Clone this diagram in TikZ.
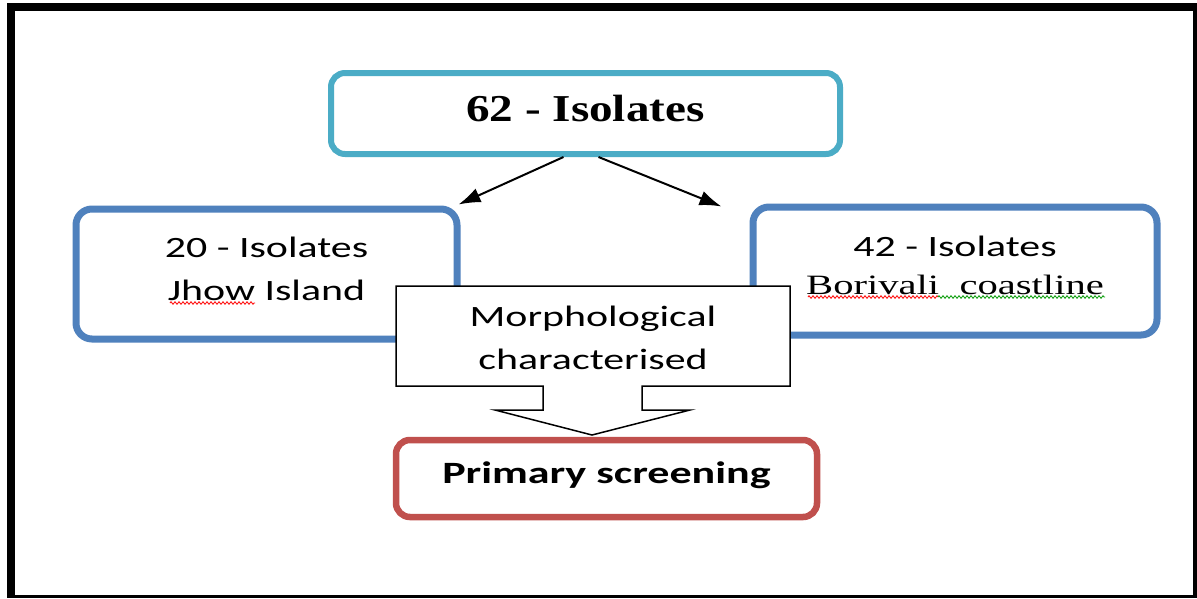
\documentclass[tikz,border=0pt]{standalone}
\usepackage{fontspec}
\newfontfamily\calfont[FakeStretch=1.42]{Carlito}
\newfontfamily\timesfont[FakeStretch=1.24]{Liberation Serif}
\newfontfamily\cambfont[FakeStretch=1.45]{Liberation Serif}
\usetikzlibrary{arrows.meta,decorations.pathmorphing}
\tikzset{>=latex}
\definecolor{topcyan}{HTML}{4BACC6}
\definecolor{isoblue}{HTML}{4F81BD}
\definecolor{screenred}{HTML}{C0504D}

\begin{document}
\begin{tikzpicture}[x=1pt,y=-1pt,
    every node/.style={align=center,inner sep=0pt,font=\calfont\fontsize{29.5}{43}\selectfont},
    isobox/.style={draw=isoblue,line width=7pt,rounded corners=16pt,fill=white},
    topbox/.style={draw=topcyan,line width=6pt,rounded corners=14pt,fill=white,
        minimum width=509pt,minimum height=81pt},
    screenbox/.style={draw=screenred,line width=6.5pt,rounded corners=14pt,fill=white,
        minimum width=421pt,minimum height=77pt},
    splitarrow/.style={-{Latex[length=22pt,width=15pt]},line width=2pt},
    spell/.style={decorate,decoration={zigzag,segment length=4pt,amplitude=1.3pt},line width=0.8pt}
  ]

    \useasboundingbox (0,0) rectangle (1197,598);
    % frame
    \fill[black] (7,3) rectangle (1197,598);
    \fill[white] (15,11) rectangle (1193,595);

    % isolate counts
    \node[topbox] (total) at (585.5,113.5) {};
    \node (totaltext) at ([yshift=5pt]total.center)
        {\timesfont\bfseries\fontsize{38}{40}\selectfont 62 - Isolates};
    \node[isobox,minimum width=381pt,minimum height=130pt] (jhow) at (266.5,274) {};
    \node (jhowtext) at ([yshift=5pt]jhow.center) {20 - Isolates\\Jhow Island};
    \node[isobox,minimum width=404pt,minimum height=128pt] (borivali) at (955,271) {};
    \node[font=\calfont\fontsize{29.5}{38}\selectfont] (borivalitext) at ([yshift=6pt]borivali.center)
        {42 - Isolates\\{\cambfont\fontsize{28}{38}\selectfont Borivali\ \ coastline}};

    % spell check marks
    \draw[spell,red] (170,303) -- (255,303);
    \draw[spell,red] (808,297) -- (938,297);
    \draw[spell,green!60!black] (938,297) -- (1105,297);

    \draw[splitarrow] ([xshift=-22pt]total.south) -- ([xshift=-2pt,yshift=1pt]jhow.north east);
    \draw[splitarrow] ([xshift=13pt]total.south) -- ([xshift=-28pt,yshift=-3pt]borivali.north west);

    % callout with down arrow
    \draw[black,line width=1.5pt,fill=white] (396,286) -- (790,286) -- (790,386) -- (642,386)
        -- (642,410) -- (690,410) -- (592,435) -- (495,410) -- (543,410) -- (543,386)
        -- (396,386) -- cycle;
    \node (morph) at (593,338) {Morphological\\characterised};

    \node[screenbox] (screen) at (606.5,478.5) {};
    \node[font=\calfont\bfseries\fontsize{31}{40}\selectfont] (screentext) at ([yshift=3pt]screen.center)
        {Primary screening};

\end{tikzpicture}
\end{document}
